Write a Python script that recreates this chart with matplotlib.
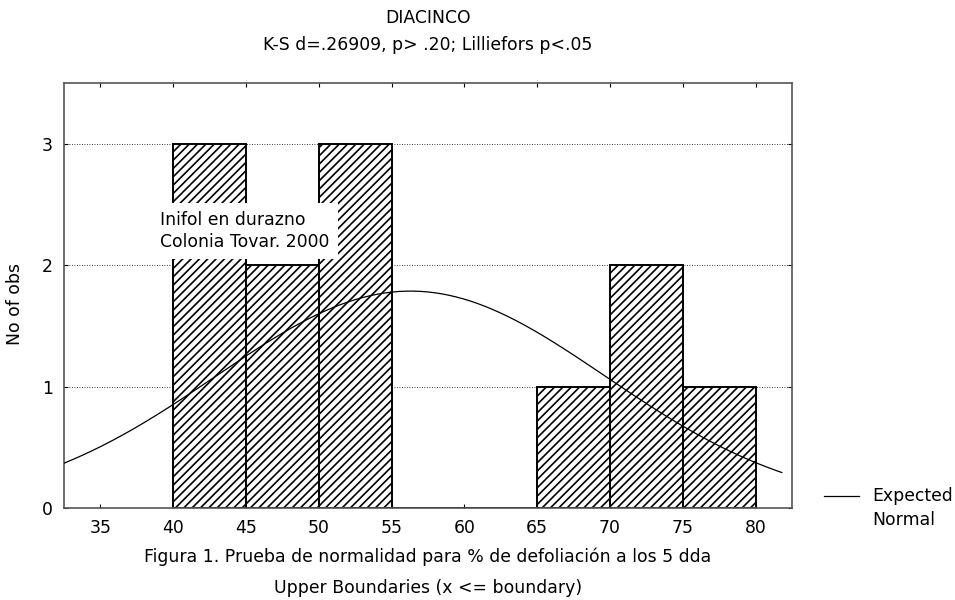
import numpy as np
import matplotlib
matplotlib.use("Agg")
import matplotlib.pyplot as plt
from matplotlib.lines import Line2D

plt.rcParams['font.family'] = ['DejaVu Sans']
plt.rcParams['hatch.linewidth'] = 1.2

# Histogram: upper boundaries of each class and observed counts
bin_edges = [40, 45, 50, 55, 60, 65, 70, 75, 80]
counts = [3, 2, 3, 0, 0, 1, 2, 1]
n_obs = sum(counts)

# Fitted normal curve parameters
curve_mean = 56.3
curve_sd = 13.4
curve_range = (32.5, 81.8)

x_ticks = [35, 40, 45, 50, 55, 60, 65, 70, 75, 80]
y_ticks = [0, 1, 2, 3]

FS = 12.4

fig = plt.figure(figsize=(9.55, 6.0), dpi=100)
ax = fig.add_axes([64 / 955, 1 - 508 / 600, (792 - 64) / 955, (508 - 83) / 600])

widths = np.diff(bin_edges)
ax.bar(bin_edges[:-1], counts, width=widths, align='edge', facecolor='white',
       edgecolor='black', hatch='////', linewidth=1.4, zorder=2)

# Expected normal counts per class of width 5
xs = np.linspace(curve_range[0], curve_range[1], 400)
bw = widths[0]
ys = n_obs * bw * np.exp(-0.5 * ((xs - curve_mean) / curve_sd) ** 2) / (curve_sd * np.sqrt(2 * np.pi))
ax.plot(xs, ys, color='black', linewidth=0.9, zorder=3)

ax.set_xlim(32.5, 82.5)
ax.set_ylim(0, 3.5)
ax.set_xticks(x_ticks)
ax.set_yticks(y_ticks)
ax.tick_params(direction='in', length=3, top=True, right=True, labelsize=FS,
               width=0.8, pad=8)
ax.yaxis.grid(True, linestyle=(0, (1, 2)), color='black', linewidth=0.6)
ax.set_axisbelow(True)
for s in ax.spines.values():
    s.set_color('#555555')
    s.set_linewidth(1.2)

fig.text(15 / 955, 1 - 304 / 600, 'No of obs', rotation=90, ha='center',
         va='center', fontsize=FS)

ax.text(160 / 955, 1 - 231 / 600, 'Inifol en durazno\nColonia Tovar. 2000',
        transform=fig.transFigure, fontsize=FS, va='center', ha='left',
        linespacing=1.25,
        bbox=dict(facecolor='white', edgecolor='none', pad=6), zorder=5)

fig.text(428 / 955, 1 - 18 / 600, 'DIACINCO', ha='center', va='center', fontsize=FS)
fig.text(428 / 955, 1 - 45 / 600, 'K-S d=.26909, p> .20; Lilliefors p<.05',
         ha='center', va='center', fontsize=FS)
fig.text(428 / 955, 1 - 557 / 600,
         'Figura 1. Prueba de normalidad para % de defoliación a los 5 dda',
         ha='center', va='center', fontsize=FS)
fig.text(428 / 955, 1 - 588 / 600, 'Upper Boundaries (x <= boundary)',
         ha='center', va='center', fontsize=FS)

# Legend drawn outside the axes on the right
fig.add_artist(Line2D([824 / 955, 859 / 955], [1 - 496 / 600, 1 - 496 / 600],
                      color='black', linewidth=0.9))
fig.text(872 / 955, 1 - 496 / 600, 'Expected', ha='left', va='center', fontsize=FS)
fig.text(872 / 955, 1 - 520 / 600, 'Normal', ha='left', va='center', fontsize=FS)

fig.savefig('out.png', dpi=100)
